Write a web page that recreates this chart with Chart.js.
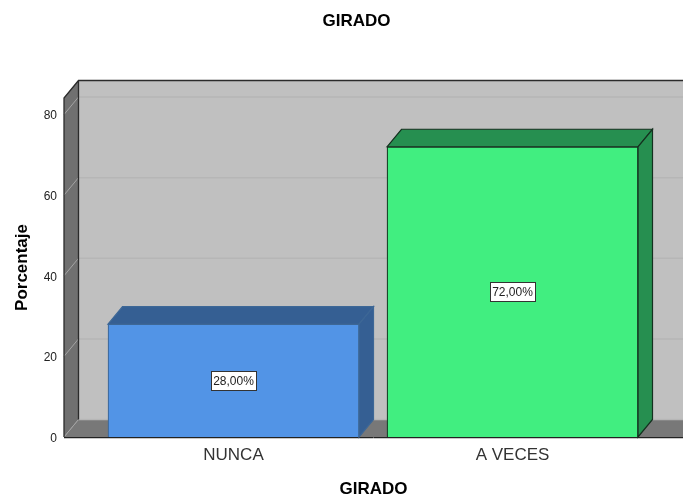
<!DOCTYPE html>
<html><head><meta charset="utf-8">
<style>html,body{margin:0;padding:0;background:#fff;overflow:hidden}canvas{display:block}</style>
<script src="https://cdn.jsdelivr.net/npm/chart.js@4"></script>
</head><body><canvas id="c" width="683" height="495"></canvas>
<script>
const categories = ['NUNCA', 'A VECES'];
const percentages = [28, 72];
const valueLabels = ['28,00%', '72,00%'];
const yTicks = [0, 20, 40, 60, 80];
const frontColors = ['#5294e6', '#41ee80'];
const sideColors = ['#355f93', '#268f50'];
const edgeColors = ['#3d6796', '#14301f'];
const DX = 14.5, DY = 17.5;

function poly(ctx, pts, fill, stroke, lw) {
  ctx.beginPath();
  pts.forEach((p, i) => i ? ctx.lineTo(p[0], p[1]) : ctx.moveTo(p[0], p[1]));
  ctx.closePath();
  if (fill) { ctx.fillStyle = fill; ctx.fill(); }
  if (stroke) { ctx.strokeStyle = stroke; ctx.lineWidth = lw || 1; ctx.stroke(); }
}

const scene = {
  id: 'scene',
  afterLayout(chart) {
    chart.titleBlock.left += 15;
    chart.titleBlock.right += 15;
  },
  beforeDatasetsDraw(chart) {
    const { ctx, chartArea: a, scales: { y } } = chart;
    const L = a.left, R = a.right, T = a.top, B = a.bottom;
    ctx.save();
    poly(ctx, [[L + DX, T - DY], [R + 2, T - DY], [R + 2, B - DY], [L + DX, B - DY]], '#c0c0c0');
    poly(ctx, [[L, B], [L + DX, B - DY], [R + 2, B - DY], [R + 2, B]], '#787878');
    poly(ctx, [[L, T], [L + DX, T - DY], [L + DX, B - DY], [L, B]], '#707070');
    yTicks.forEach(v => {
      const py = y.getPixelForValue(v);
      ctx.strokeStyle = '#b6b6b6'; ctx.lineWidth = 1.5;
      ctx.beginPath(); ctx.moveTo(L + DX, py - DY); ctx.lineTo(R, py - DY); ctx.stroke();
      ctx.strokeStyle = '#a4a4a4'; ctx.lineWidth = 1;
      ctx.beginPath(); ctx.moveTo(L, py); ctx.lineTo(L + DX, py - DY); ctx.stroke();
    });
    ctx.strokeStyle = '#2b2b2b'; ctx.lineWidth = 1.3;
    ctx.beginPath();
    ctx.moveTo(L, B); ctx.lineTo(L, T); ctx.lineTo(L + DX, T - DY); ctx.lineTo(R + 2, T - DY);
    ctx.moveTo(L + DX, T - DY); ctx.lineTo(L + DX, B - DY);
    ctx.stroke();
    ctx.beginPath(); ctx.moveTo(L, B + .5); ctx.lineTo(R, B + .5); ctx.strokeStyle = '#222'; ctx.lineWidth = 1; ctx.stroke();
    ctx.beginPath(); ctx.moveTo(L, B + 1.5); ctx.lineTo(R, B + 1.5); ctx.strokeStyle = '#c8c8c8'; ctx.stroke();
    chart.getDatasetMeta(0).data.forEach((bar, i) => {
      const x0 = bar.x - bar.width / 2, x1 = bar.x + bar.width / 2, top = bar.y, base = bar.base;
      poly(ctx, [[x0, top], [x0 + DX, top - DY], [x1 + DX, top - DY], [x1, top]], sideColors[i], edgeColors[i], 1.2);
      poly(ctx, [[x1, top], [x1 + DX, top - DY], [x1 + DX, base - DY], [x1, base]], sideColors[i], edgeColors[i], 1.2);
    });
    ctx.restore();
  },
  afterDatasetsDraw(chart) {
    const { ctx } = chart;
    ctx.save();
    ctx.font = '12px "Liberation Sans"';
    ctx.textAlign = 'center'; ctx.textBaseline = 'middle';
    chart.getDatasetMeta(0).data.forEach((bar, i) => {
      const cy = (bar.y + bar.base) / 2;
      const w = Math.ceil(ctx.measureText(valueLabels[i]).width) + 4, h = 19;
      const x = Math.round(bar.x - w / 2) + .5, y = Math.round(cy - h / 2) + .5;
      ctx.fillStyle = '#fff'; ctx.fillRect(x, y, w, h);
      ctx.strokeStyle = '#333'; ctx.lineWidth = 1; ctx.strokeRect(x, y, w, h);
      ctx.fillStyle = '#222'; ctx.fillText(valueLabels[i], bar.x, cy + 1);
    });
    ctx.restore();
  }
};

new Chart(document.getElementById('c'), {
  type: 'bar',
  data: {
    datasets: [{
      data: percentages.map((v, i) => ({ x: i, y: v })),
      backgroundColor: frontColors,
      borderColor: edgeColors,
      borderWidth: 1.2,
      barThickness: 251
    }]
  },
  plugins: [scene],
  options: {
    responsive: false,
    animation: false,
    layout: { padding: 0 },
    plugins: {
      legend: { display: false },
      tooltip: { enabled: false },
      title: {
        display: true, text: 'GIRADO', color: '#000',
        font: { family: '"Liberation Sans"', size: 17, weight: 'bold' },
        padding: { top: 11, bottom: 66.6 }
      }
    },
    scales: {
      x: {
        type: 'linear', min: -0.6075, max: 1.6111, offset: false,
        afterBuildTicks(s) { s.ticks = categories.map((_, i) => ({ value: i })); },
        afterFit(s) { s.height = 58; },
        grid: { display: false, drawTicks: false, offset: false }, border: { display: false },
        ticks: {
          autoSkip: false, maxRotation: 0, padding: 8, color: '#333',
          font: { family: '"Liberation Sans"', size: 17 },
          callback: v => categories[v]
        },
        title: {
          display: true, text: 'GIRADO', color: '#000',
          font: { family: '"Liberation Sans"', size: 17, weight: 'bold' },
          padding: { top: 0, bottom: -4.5 }
        }
      },
      y: {
        min: 0, max: 84.1,
        afterBuildTicks(s) { s.ticks = yTicks.map(v => ({ value: v })); },
        afterFit(s) { s.width = 64; },
        grid: { display: false, drawTicks: false }, border: { display: false },
        ticks: {
          padding: 7, color: '#222', labelOffset: 1.5,
          font: { family: '"Liberation Sans"', size: 12 }
        },
        title: {
          display: true, text: 'Porcentaje', color: '#000',
          font: { family: '"Liberation Sans"', size: 17, weight: 'bold' },
          padding: { top: 12, bottom: 0 }
        }
      }
    }
  }
});
</script></body></html>
